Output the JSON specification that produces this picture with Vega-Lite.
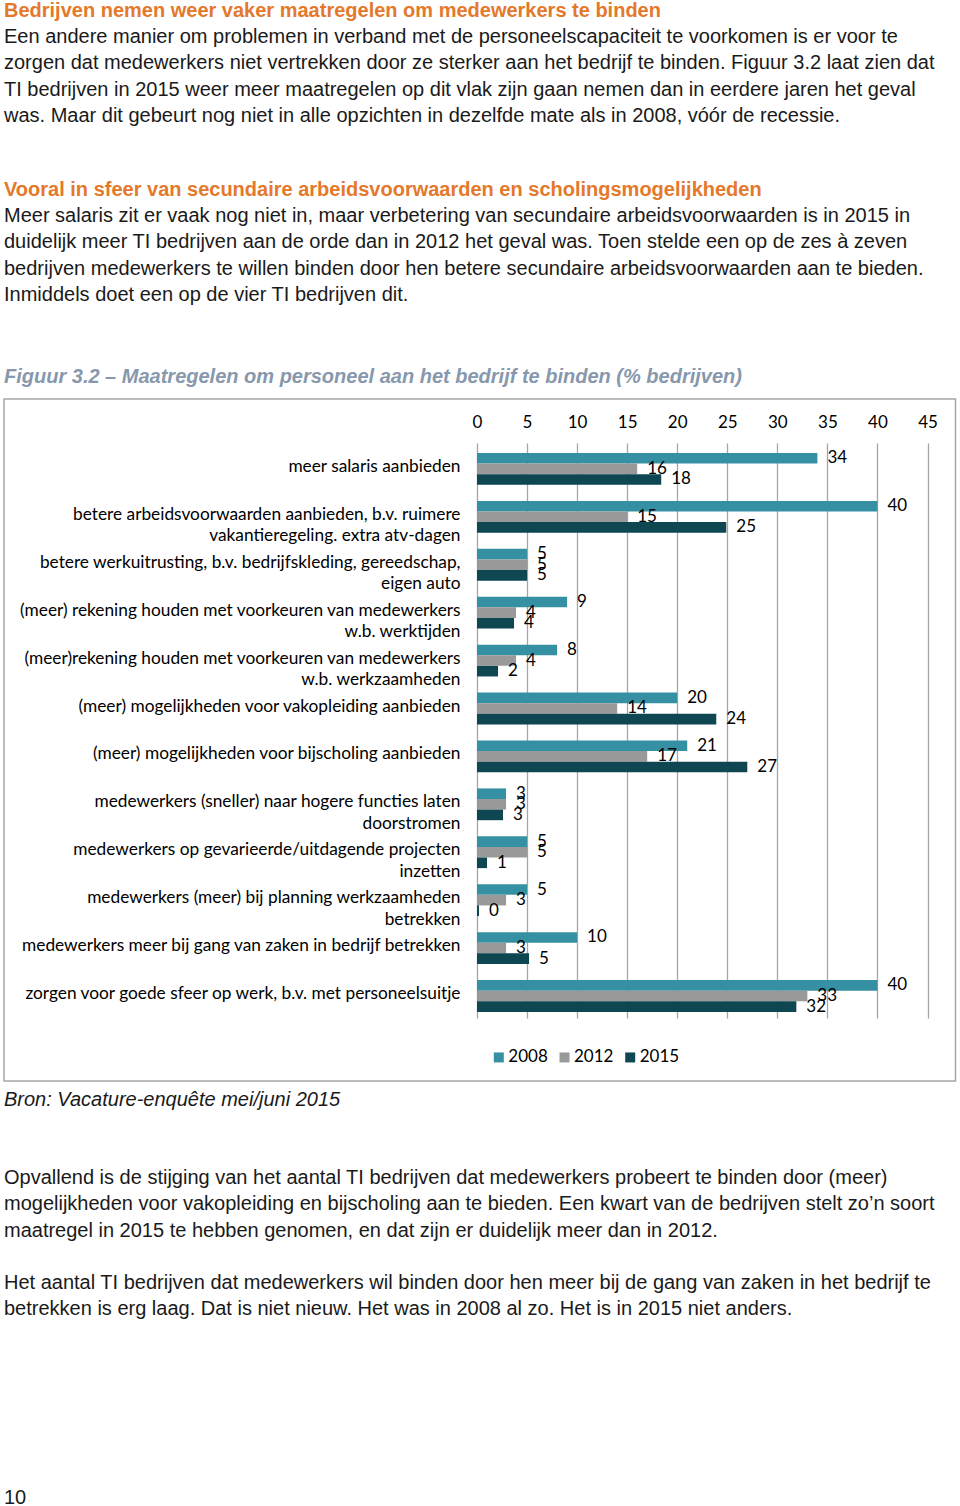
{
  "$schema": "https://vega.github.io/schema/vega-lite/v6.json",
  "padding": {"left": 3, "top": 0, "right": 0, "bottom": 0},
  "spacing": 0,
  "config": {"view": {"stroke": null}, "font": "Liberation Sans"},
  "datasets": {
    "page": [
      {"block": "HA", "line": 0, "text": "Bedrijven nemen weer vaker maatregelen om medewerkers te binden"},
      {"block": "A", "line": 0, "text": "Een andere manier om problemen in verband met de personeelscapaciteit te voorkomen is er voor te"},
      {"block": "A", "line": 1, "text": "zorgen dat medewerkers niet vertrekken door ze sterker aan het bedrijf te binden. Figuur 3.2 laat zien dat"},
      {"block": "A", "line": 2, "text": "TI bedrijven in 2015 weer meer maatregelen op dit vlak zijn gaan nemen dan in eerdere jaren het geval"},
      {"block": "A", "line": 3, "text": "was. Maar dit gebeurt nog niet in alle opzichten in dezelfde mate als in 2008, vóór de recessie."},
      {"block": "HB", "line": 0, "text": "Vooral in sfeer van secundaire arbeidsvoorwaarden en scholingsmogelijkheden"},
      {"block": "B", "line": 0, "text": "Meer salaris zit er vaak nog niet in, maar verbetering van secundaire arbeidsvoorwaarden is in 2015 in"},
      {"block": "B", "line": 1, "text": "duidelijk meer TI bedrijven aan de orde dan in 2012 het geval was. Toen stelde een op de zes à zeven"},
      {"block": "B", "line": 2, "text": "bedrijven medewerkers te willen binden door hen betere secundaire arbeidsvoorwaarden aan te bieden."},
      {"block": "B", "line": 3, "text": "Inmiddels doet een op de vier TI bedrijven dit."},
      {"block": "cap", "line": 0, "text": "Figuur 3.2 – Maatregelen om personeel aan het bedrijf te binden (% bedrijven)"},
      {"block": "bron", "line": 0, "text": "Bron: Vacature-enquête mei/juni 2015"},
      {"block": "C", "line": 0, "text": "Opvallend is de stijging van het aantal TI bedrijven dat medewerkers probeert te binden door (meer)"},
      {"block": "C", "line": 1, "text": "mogelijkheden voor vakopleiding en bijscholing aan te bieden. Een kwart van de bedrijven stelt zo’n soort"},
      {"block": "C", "line": 2, "text": "maatregel in 2015 te hebben genomen, en dat zijn er duidelijk meer dan in 2012."},
      {"block": "D", "line": 0, "text": "Het aantal TI bedrijven dat medewerkers wil binden door hen meer bij de gang van zaken in het bedrijf te"},
      {"block": "D", "line": 1, "text": "betrekken is erg laag. Dat is niet nieuw. Het was in 2008 al zo. Het is in 2015 niet anders."},
      {"block": "pg", "line": 0, "text": "10"}
    ],
    "bars": [
      {"cat": "meer salaris aanbieden", "year": "2008", "pct": 34},
      {"cat": "meer salaris aanbieden", "year": "2012", "pct": 16},
      {"cat": "meer salaris aanbieden", "year": "2015", "pct": 18.4},
      {"cat": "betere arbeidsvoorwaarden aanbieden, b.v. ruimere|vakantieregeling. extra atv-dagen", "year": "2008", "pct": 40},
      {"cat": "betere arbeidsvoorwaarden aanbieden, b.v. ruimere|vakantieregeling. extra atv-dagen", "year": "2012", "pct": 15},
      {"cat": "betere arbeidsvoorwaarden aanbieden, b.v. ruimere|vakantieregeling. extra atv-dagen", "year": "2015", "pct": 24.9},
      {"cat": "betere werkuitrusting, b.v. bedrijfskleding, gereedschap,|eigen auto", "year": "2008", "pct": 5},
      {"cat": "betere werkuitrusting, b.v. bedrijfskleding, gereedschap,|eigen auto", "year": "2012", "pct": 5},
      {"cat": "betere werkuitrusting, b.v. bedrijfskleding, gereedschap,|eigen auto", "year": "2015", "pct": 5},
      {"cat": "(meer) rekening houden met voorkeuren van medewerkers|w.b. werktijden", "year": "2008", "pct": 9},
      {"cat": "(meer) rekening houden met voorkeuren van medewerkers|w.b. werktijden", "year": "2012", "pct": 3.9},
      {"cat": "(meer) rekening houden met voorkeuren van medewerkers|w.b. werktijden", "year": "2015", "pct": 3.7},
      {"cat": "(meer)rekening houden met voorkeuren van medewerkers|w.b. werkzaamheden", "year": "2008", "pct": 8},
      {"cat": "(meer)rekening houden met voorkeuren van medewerkers|w.b. werkzaamheden", "year": "2012", "pct": 3.9},
      {"cat": "(meer)rekening houden met voorkeuren van medewerkers|w.b. werkzaamheden", "year": "2015", "pct": 2.1},
      {"cat": "(meer) mogelijkheden voor vakopleiding aanbieden", "year": "2008", "pct": 20},
      {"cat": "(meer) mogelijkheden voor vakopleiding aanbieden", "year": "2012", "pct": 14},
      {"cat": "(meer) mogelijkheden voor vakopleiding aanbieden", "year": "2015", "pct": 23.9},
      {"cat": "(meer) mogelijkheden voor bijscholing aanbieden", "year": "2008", "pct": 21},
      {"cat": "(meer) mogelijkheden voor bijscholing aanbieden", "year": "2012", "pct": 17},
      {"cat": "(meer) mogelijkheden voor bijscholing aanbieden", "year": "2015", "pct": 27},
      {"cat": "medewerkers (sneller) naar hogere functies laten|doorstromen", "year": "2008", "pct": 2.9},
      {"cat": "medewerkers (sneller) naar hogere functies laten|doorstromen", "year": "2012", "pct": 2.9},
      {"cat": "medewerkers (sneller) naar hogere functies laten|doorstromen", "year": "2015", "pct": 2.6},
      {"cat": "medewerkers op gevarieerde/uitdagende projecten|inzetten", "year": "2008", "pct": 5},
      {"cat": "medewerkers op gevarieerde/uitdagende projecten|inzetten", "year": "2012", "pct": 5},
      {"cat": "medewerkers op gevarieerde/uitdagende projecten|inzetten", "year": "2015", "pct": 1},
      {"cat": "medewerkers (meer) bij planning werkzaamheden|betrekken", "year": "2008", "pct": 5},
      {"cat": "medewerkers (meer) bij planning werkzaamheden|betrekken", "year": "2012", "pct": 2.9},
      {"cat": "medewerkers (meer) bij planning werkzaamheden|betrekken", "year": "2015", "pct": 0.2},
      {"cat": "medewerkers meer bij gang van zaken in bedrijf betrekken", "year": "2008", "pct": 10},
      {"cat": "medewerkers meer bij gang van zaken in bedrijf betrekken", "year": "2012", "pct": 2.9},
      {"cat": "medewerkers meer bij gang van zaken in bedrijf betrekken", "year": "2015", "pct": 5.2},
      {"cat": "zorgen voor goede sfeer op werk, b.v. met personeelsuitje", "year": "2008", "pct": 40},
      {"cat": "zorgen voor goede sfeer op werk, b.v. met personeelsuitje", "year": "2012", "pct": 33},
      {"cat": "zorgen voor goede sfeer op werk, b.v. met personeelsuitje", "year": "2015", "pct": 31.9}
    ]
  },
  "vconcat": [
    {
      "width": 950, "height": 22,
      "data": {"name": "page"},
      "transform": [{"filter": "datum.block === 'HA'"}],
      "mark": {"type": "text", "align": "left", "baseline": "middle", "fontSize": 20, "fontWeight": "bold", "color": "#E4792B"},
      "encoding": {"y": {"field": "line", "type": "ordinal", "axis": null, "scale": {"paddingInner": 0, "paddingOuter": 0}}, "x": {"value": 0}, "text": {"field": "text"}}
    },
    {"width": 10, "height": 1.85, "data": {"values": []}, "mark": "text"},
    {
      "width": 950, "height": 105.2,
      "data": {"name": "page"},
      "transform": [{"filter": "datum.block === 'A'"}],
      "mark": {"type": "text", "align": "left", "baseline": "middle", "fontSize": 20, "color": "#1a1a1a"},
      "encoding": {"y": {"field": "line", "type": "ordinal", "axis": null, "scale": {"paddingInner": 0, "paddingOuter": 0}}, "x": {"value": 0}, "text": {"field": "text"}}
    },
    {"width": 10, "height": 48.95, "data": {"values": []}, "mark": "text"},
    {
      "width": 950, "height": 22,
      "data": {"name": "page"},
      "transform": [{"filter": "datum.block === 'HB'"}],
      "mark": {"type": "text", "align": "left", "baseline": "middle", "fontSize": 20, "fontWeight": "bold", "color": "#E4792B"},
      "encoding": {"y": {"field": "line", "type": "ordinal", "axis": null, "scale": {"paddingInner": 0, "paddingOuter": 0}}, "x": {"value": 0}, "text": {"field": "text"}}
    },
    {"width": 10, "height": 1.85, "data": {"values": []}, "mark": "text"},
    {
      "width": 950, "height": 105.2,
      "data": {"name": "page"},
      "transform": [{"filter": "datum.block === 'B'"}],
      "mark": {"type": "text", "align": "left", "baseline": "middle", "fontSize": 20, "color": "#1a1a1a"},
      "encoding": {"y": {"field": "line", "type": "ordinal", "axis": null, "scale": {"paddingInner": 0, "paddingOuter": 0}}, "x": {"value": 0}, "text": {"field": "text"}}
    },
    {"width": 10, "height": 56.95, "data": {"values": []}, "mark": "text"},
    {
      "width": 950, "height": 22,
      "data": {"name": "page"},
      "transform": [{"filter": "datum.block === 'cap'"}],
      "mark": {"type": "text", "align": "left", "baseline": "middle", "fontSize": 20, "fontWeight": "bold", "fontStyle": "italic", "color": "#8798AD"},
      "encoding": {"y": {"field": "line", "type": "ordinal", "axis": null, "scale": {"paddingInner": 0, "paddingOuter": 0}}, "x": {"value": 0}, "text": {"field": "text"}}
    },
    {"width": 10, "height": 10, "data": {"values": []}, "mark": "text"},
    {
      "width": 951.5, "height": 682,
      "view": {"stroke": "#A6A6A6", "strokeWidth": 1.5},
      "data": {"name": "bars"},
      "encoding": {
        "y": {"field": "cat", "type": "nominal", "title": null,
          "scale": {"range": [44, 619], "paddingInner": 0, "paddingOuter": 0, "domain": [
            "meer salaris aanbieden",
            "betere arbeidsvoorwaarden aanbieden, b.v. ruimere|vakantieregeling. extra atv-dagen",
            "betere werkuitrusting, b.v. bedrijfskleding, gereedschap,|eigen auto",
            "(meer) rekening houden met voorkeuren van medewerkers|w.b. werktijden",
            "(meer)rekening houden met voorkeuren van medewerkers|w.b. werkzaamheden",
            "(meer) mogelijkheden voor vakopleiding aanbieden",
            "(meer) mogelijkheden voor bijscholing aanbieden",
            "medewerkers (sneller) naar hogere functies laten|doorstromen",
            "medewerkers op gevarieerde/uitdagende projecten|inzetten",
            "medewerkers (meer) bij planning werkzaamheden|betrekken",
            "medewerkers meer bij gang van zaken in bedrijf betrekken",
            "zorgen voor goede sfeer op werk, b.v. met personeelsuitje"
          ]},
          "axis": {"orient": "left", "ticks": false, "domain": false, "grid": false, "labelPadding": -456, "labelFont": "Lato", "labelFontSize": 17.3, "labelColor": "#000000", "labelLimit": 600, "labelAlign": "right", "labelBaseline": "middle", "labelLineHeight": 21.5, "labelExpr": "split(datum.label, '|')"}},
        "x": {"field": "pct", "type": "quantitative", "title": null,
          "scale": {"domain": [0, 45], "range": [473, 923.5], "nice": false, "zero": true},
          "axis": {"orient": "top", "values": [0, 5, 10, 15, 20, 25, 30, 35, 40, 45], "ticks": false, "domain": false, "grid": true, "gridColor": "#A6A6A6", "gridWidth": 1.3, "labelPadding": -32, "labelBaseline": "bottom", "labelFont": "Lato", "labelFontSize": 17, "labelColor": "#000000", "labelFlush": false, "labelOverlap": false}},
        "yOffset": {"field": "year", "type": "nominal", "scale": {"paddingInner": 0, "paddingOuter": 0.76, "align": 0.62}}
      },
      "layer": [
        {
          "mark": {"type": "bar"},
          "encoding": {
            "color": {"field": "year", "type": "nominal",
              "scale": {"domain": ["2008", "2012", "2015"], "range": ["#3690A3", "#999999", "#0E4652"]},
              "legend": {"orient": "none", "legendX": 486.3, "legendY": 1048.7, "direction": "horizontal", "title": null, "padding": 0, "symbolType": "square", "symbolSize": 100, "symbolStrokeWidth": 0, "labelFont": "Lato", "labelFontSize": 17, "labelColor": "#000000", "labelOffset": 1, "columnPadding": 7.7}}
          }
        },
        {
          "mark": {"type": "text", "align": "left", "baseline": "middle", "dx": 10, "font": "Lato", "fontSize": 17, "color": "#000000"},
          "encoding": {
            "text": {"field": "pct", "type": "quantitative", "format": ".0f"}
          }
        }
      ]
    },
    {"width": 10, "height": 7, "data": {"values": []}, "mark": "text"},
    {
      "width": 950, "height": 22,
      "data": {"name": "page"},
      "transform": [{"filter": "datum.block === 'bron'"}],
      "mark": {"type": "text", "align": "left", "baseline": "middle", "fontSize": 20, "fontStyle": "italic", "color": "#1a1a1a"},
      "encoding": {"y": {"field": "line", "type": "ordinal", "axis": null, "scale": {"paddingInner": 0, "paddingOuter": 0}}, "x": {"value": 0}, "text": {"field": "text"}}
    },
    {"width": 10, "height": 53.35, "data": {"values": []}, "mark": "text"},
    {
      "width": 950, "height": 78.9,
      "data": {"name": "page"},
      "transform": [{"filter": "datum.block === 'C'"}],
      "mark": {"type": "text", "align": "left", "baseline": "middle", "fontSize": 20, "color": "#1a1a1a"},
      "encoding": {"y": {"field": "line", "type": "ordinal", "axis": null, "scale": {"paddingInner": 0, "paddingOuter": 0}}, "x": {"value": 0}, "text": {"field": "text"}}
    },
    {"width": 10, "height": 25.1, "data": {"values": []}, "mark": "text"},
    {
      "width": 950, "height": 52.6,
      "data": {"name": "page"},
      "transform": [{"filter": "datum.block === 'D'"}],
      "mark": {"type": "text", "align": "left", "baseline": "middle", "fontSize": 20, "color": "#1a1a1a"},
      "encoding": {"y": {"field": "line", "type": "ordinal", "axis": null, "scale": {"paddingInner": 0, "paddingOuter": 0}}, "x": {"value": 0}, "text": {"field": "text"}}
    },
    {"width": 10, "height": 164.5, "data": {"values": []}, "mark": "text"},
    {
      "width": 950, "height": 20,
      "data": {"name": "page"},
      "transform": [{"filter": "datum.block === 'pg'"}],
      "mark": {"type": "text", "align": "left", "baseline": "middle", "fontSize": 20, "color": "#1a1a1a"},
      "encoding": {"y": {"field": "line", "type": "ordinal", "axis": null, "scale": {"paddingInner": 0, "paddingOuter": 0}}, "x": {"value": 0}, "text": {"field": "text"}}
    }
  ]
}
